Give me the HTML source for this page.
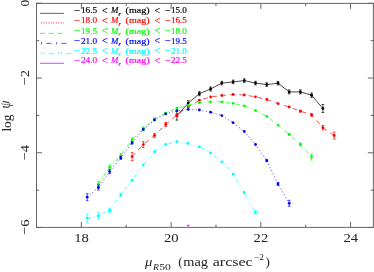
<!DOCTYPE html>
<html><head><meta charset="utf-8"><title>plot</title>
<style>
html,body{margin:0;padding:0;background:#fff;}
body{width:374px;height:272px;overflow:hidden;position:relative;font-family:"Liberation Serif",serif;}
</style></head><body>
<svg width="374" height="272" viewBox="0 0 374 272" style="position:absolute;left:0;top:0;display:block;will-change:transform">
<g stroke="#5e5e5e" stroke-width="0.95" fill="none">
<rect x="36.5" y="3.35" width="336.85" height="224.0"/>
<path d="M81.36 227.35v-5.5M81.36 3.35v5.5"/>
<path d="M126.23 227.35v-2.7M126.23 3.35v2.7"/>
<path d="M171.1 227.35v-5.5M171.1 3.35v5.5"/>
<path d="M215.97 227.35v-2.7M215.97 3.35v2.7"/>
<path d="M260.84 227.35v-5.5M260.84 3.35v5.5"/>
<path d="M305.71 227.35v-2.7M305.71 3.35v2.7"/>
<path d="M350.58 227.35v-5.5M350.58 3.35v5.5"/>
<path d="M36.5 3.3h5.5M373.35 3.3h-5.5"/>
<path d="M36.5 40.67h2.7M373.35 40.67h-2.7"/>
<path d="M36.5 78.04h5.5M373.35 78.04h-5.5"/>
<path d="M36.5 115.41h2.7M373.35 115.41h-2.7"/>
<path d="M36.5 152.78h5.5M373.35 152.78h-5.5"/>
<path d="M36.5 190.15h2.7M373.35 190.15h-2.7"/>
<path d="M36.5 227.52h5.5M373.35 227.52h-5.5"/>
</g>
<path d="M176.9 115.7 L188.2 103.1 L199.4 93.7 L210.6 89.0 L221.8 83.1 L233.1 81.9 L244.3 80.6 L255.5 83.1 L266.8 84.6 L278.0 83.2 L289.2 91.9 L300.4 91.9 L311.6 95.2 L322.9 108.5" fill="none" stroke="#000000" stroke-width="0.72"/>
<path d="M176.9 111.3V120.1M175.6 111.3h2.6M175.6 120.1h2.6M188.2 100.6V105.6M186.9 100.6h2.6M186.9 105.6h2.6M199.4 91.7V95.7M198.1 91.7h2.6M198.1 95.7h2.6M210.6 87.0V91.0M209.3 87.0h2.6M209.3 91.0h2.6M221.8 81.3V84.9M220.5 81.3h2.6M220.5 84.9h2.6M233.1 80.1V83.7M231.8 80.1h2.6M231.8 83.7h2.6M244.3 78.8V82.4M243.0 78.8h2.6M243.0 82.4h2.6M255.5 81.3V84.9M254.2 81.3h2.6M254.2 84.9h2.6M266.8 82.8V86.4M265.4 82.8h2.6M265.4 86.4h2.6M278.0 81.4V85.0M276.7 81.4h2.6M276.7 85.0h2.6M289.2 89.9V93.9M287.9 89.9h2.6M287.9 93.9h2.6M300.4 89.9V93.9M299.1 89.9h2.6M299.1 93.9h2.6M311.6 93.0V97.4M310.3 93.0h2.6M310.3 97.4h2.6M322.9 104.5V112.5M321.6 104.5h2.6M321.6 112.5h2.6" fill="none" stroke="#000000" stroke-width="0.7"/>
<circle cx="176.9" cy="115.7" r="1.4" fill="#000000"/>
<circle cx="188.2" cy="103.1" r="1.4" fill="#000000"/>
<circle cx="199.4" cy="93.7" r="1.4" fill="#000000"/>
<circle cx="210.6" cy="89.0" r="1.4" fill="#000000"/>
<circle cx="221.8" cy="83.1" r="1.4" fill="#000000"/>
<circle cx="233.1" cy="81.9" r="1.4" fill="#000000"/>
<circle cx="244.3" cy="80.6" r="1.4" fill="#000000"/>
<circle cx="255.5" cy="83.1" r="1.4" fill="#000000"/>
<circle cx="266.8" cy="84.6" r="1.4" fill="#000000"/>
<circle cx="278.0" cy="83.2" r="1.4" fill="#000000"/>
<circle cx="289.2" cy="91.9" r="1.4" fill="#000000"/>
<circle cx="300.4" cy="91.9" r="1.4" fill="#000000"/>
<circle cx="311.6" cy="95.2" r="1.4" fill="#000000"/>
<circle cx="322.9" cy="108.5" r="1.4" fill="#000000"/>
<path d="M132.1 156.6 L143.3 144.6 L154.5 135.3 L165.7 124.5 L176.9 115.0 L188.2 106.7 L199.4 100.2 L210.6 97.0 L221.8 95.5 L233.1 94.5 L244.3 95.0 L255.5 96.8 L266.8 99.5 L278.0 103.6 L289.2 107.0 L300.4 111.2 L311.6 114.9 L322.9 127.7 L334.1 135.5" fill="none" stroke="#ff0000" stroke-width="0.68" stroke-dasharray="5 4.2"/>
<path d="M132.1 152.6V160.6M130.8 152.6h2.6M130.8 160.6h2.6M143.3 141.6V147.6M142.0 141.6h2.6M142.0 147.6h2.6M154.5 133.3V137.3M153.2 133.3h2.6M153.2 137.3h2.6M165.7 122.5V126.5M164.4 122.5h2.6M164.4 126.5h2.6M176.9 113.5V116.5M175.6 113.5h2.6M175.6 116.5h2.6M188.2 105.7V107.7M186.9 105.7h2.6M186.9 107.7h2.6M300.4 110.2V112.2M299.1 110.2h2.6M299.1 112.2h2.6M311.6 113.4V116.4M310.3 113.4h2.6M310.3 116.4h2.6M322.9 125.5V129.9M321.6 125.5h2.6M321.6 129.9h2.6M334.1 132.1V138.9M332.8 132.1h2.6M332.8 138.9h2.6" fill="none" stroke="#ff0000" stroke-width="0.7"/>
<circle cx="132.1" cy="156.6" r="1.4" fill="#ff0000"/>
<circle cx="143.3" cy="144.6" r="1.4" fill="#ff0000"/>
<circle cx="154.5" cy="135.3" r="1.4" fill="#ff0000"/>
<circle cx="165.7" cy="124.5" r="1.4" fill="#ff0000"/>
<circle cx="176.9" cy="115.0" r="1.4" fill="#ff0000"/>
<circle cx="188.2" cy="106.7" r="1.4" fill="#ff0000"/>
<circle cx="199.4" cy="100.2" r="1.4" fill="#ff0000"/>
<circle cx="210.6" cy="97.0" r="1.4" fill="#ff0000"/>
<circle cx="221.8" cy="95.5" r="1.4" fill="#ff0000"/>
<circle cx="233.1" cy="94.5" r="1.4" fill="#ff0000"/>
<circle cx="244.3" cy="95.0" r="1.4" fill="#ff0000"/>
<circle cx="255.5" cy="96.8" r="1.4" fill="#ff0000"/>
<circle cx="266.8" cy="99.5" r="1.4" fill="#ff0000"/>
<circle cx="278.0" cy="103.6" r="1.4" fill="#ff0000"/>
<circle cx="289.2" cy="107.0" r="1.4" fill="#ff0000"/>
<circle cx="300.4" cy="111.2" r="1.4" fill="#ff0000"/>
<circle cx="311.6" cy="114.9" r="1.4" fill="#ff0000"/>
<circle cx="322.9" cy="127.7" r="1.4" fill="#ff0000"/>
<circle cx="334.1" cy="135.5" r="1.4" fill="#ff0000"/>
<path d="M98.4 184.3 L109.6 167.4 L120.8 155.6 L132.1 139.9 L143.3 128.5 L154.5 119.0 L165.7 113.2 L176.9 108.2 L188.2 105.4 L199.4 102.7 L210.6 101.8 L221.8 101.8 L233.1 103.3 L244.3 105.8 L255.5 110.6 L266.8 116.4 L278.0 125.2 L289.2 134.4 L300.4 144.4 L311.6 157.0" fill="none" stroke="#00ff00" stroke-width="0.68" stroke-dasharray="4.2 2.2 0.9 2.2"/>
<path d="M98.4 181.3V187.3M97.1 181.3h2.6M97.1 187.3h2.6M109.6 164.9V169.9M108.3 164.9h2.6M108.3 169.9h2.6M120.8 153.6V157.6M119.5 153.6h2.6M119.5 157.6h2.6M132.1 137.9V141.9M130.8 137.9h2.6M130.8 141.9h2.6M143.3 127.0V130.0M142.0 127.0h2.6M142.0 130.0h2.6M154.5 118.0V120.0M153.2 118.0h2.6M153.2 120.0h2.6M289.2 133.4V135.4M287.9 133.4h2.6M287.9 135.4h2.6M300.4 142.9V145.9M299.1 142.9h2.6M299.1 145.9h2.6M311.6 154.0V160.0M310.3 154.0h2.6M310.3 160.0h2.6" fill="none" stroke="#00ff00" stroke-width="0.7"/>
<circle cx="98.4" cy="184.3" r="1.4" fill="#00ff00"/>
<circle cx="109.6" cy="167.4" r="1.4" fill="#00ff00"/>
<circle cx="120.8" cy="155.6" r="1.4" fill="#00ff00"/>
<circle cx="132.1" cy="139.9" r="1.4" fill="#00ff00"/>
<circle cx="143.3" cy="128.5" r="1.4" fill="#00ff00"/>
<circle cx="154.5" cy="119.0" r="1.4" fill="#00ff00"/>
<circle cx="165.7" cy="113.2" r="1.4" fill="#00ff00"/>
<circle cx="176.9" cy="108.2" r="1.4" fill="#00ff00"/>
<circle cx="188.2" cy="105.4" r="1.4" fill="#00ff00"/>
<circle cx="199.4" cy="102.7" r="1.4" fill="#00ff00"/>
<circle cx="210.6" cy="101.8" r="1.4" fill="#00ff00"/>
<circle cx="221.8" cy="101.8" r="1.4" fill="#00ff00"/>
<circle cx="233.1" cy="103.3" r="1.4" fill="#00ff00"/>
<circle cx="244.3" cy="105.8" r="1.4" fill="#00ff00"/>
<circle cx="255.5" cy="110.6" r="1.4" fill="#00ff00"/>
<circle cx="266.8" cy="116.4" r="1.4" fill="#00ff00"/>
<circle cx="278.0" cy="125.2" r="1.4" fill="#00ff00"/>
<circle cx="289.2" cy="134.4" r="1.4" fill="#00ff00"/>
<circle cx="300.4" cy="144.4" r="1.4" fill="#00ff00"/>
<circle cx="311.6" cy="157.0" r="1.4" fill="#00ff00"/>
<path d="M87.2 197.2 L98.4 187.5 L109.6 171.7 L120.8 157.9 L132.1 143.0 L143.3 129.5 L154.5 120.0 L165.7 113.9 L176.9 110.7 L188.2 109.4 L199.4 110.0 L210.6 112.2 L221.8 115.6 L233.1 122.7 L244.3 131.5 L255.5 144.5 L266.8 160.6 L278.0 183.9 L289.2 203.3" fill="none" stroke="#0000ff" stroke-width="0.75" stroke-dasharray="1 2.4"/>
<path d="M87.2 193.7V200.7M85.9 193.7h2.6M85.9 200.7h2.6M98.4 185.0V190.0M97.1 185.0h2.6M97.1 190.0h2.6M109.6 169.7V173.7M108.3 169.7h2.6M108.3 173.7h2.6M120.8 156.4V159.4M119.5 156.4h2.6M119.5 159.4h2.6M132.1 142.0V144.0M130.8 142.0h2.6M130.8 144.0h2.6M266.8 159.6V161.6M265.4 159.6h2.6M265.4 161.6h2.6M278.0 182.4V185.4M276.7 182.4h2.6M276.7 185.4h2.6M289.2 200.3V206.3M287.9 200.3h2.6M287.9 206.3h2.6" fill="none" stroke="#0000ff" stroke-width="0.7"/>
<circle cx="87.2" cy="197.2" r="1.4" fill="#0000ff"/>
<circle cx="98.4" cy="187.5" r="1.4" fill="#0000ff"/>
<circle cx="109.6" cy="171.7" r="1.4" fill="#0000ff"/>
<circle cx="120.8" cy="157.9" r="1.4" fill="#0000ff"/>
<circle cx="132.1" cy="143.0" r="1.4" fill="#0000ff"/>
<circle cx="143.3" cy="129.5" r="1.4" fill="#0000ff"/>
<circle cx="154.5" cy="120.0" r="1.4" fill="#0000ff"/>
<circle cx="165.7" cy="113.9" r="1.4" fill="#0000ff"/>
<circle cx="176.9" cy="110.7" r="1.4" fill="#0000ff"/>
<circle cx="188.2" cy="109.4" r="1.4" fill="#0000ff"/>
<circle cx="199.4" cy="110.0" r="1.4" fill="#0000ff"/>
<circle cx="210.6" cy="112.2" r="1.4" fill="#0000ff"/>
<circle cx="221.8" cy="115.6" r="1.4" fill="#0000ff"/>
<circle cx="233.1" cy="122.7" r="1.4" fill="#0000ff"/>
<circle cx="244.3" cy="131.5" r="1.4" fill="#0000ff"/>
<circle cx="255.5" cy="144.5" r="1.4" fill="#0000ff"/>
<circle cx="266.8" cy="160.6" r="1.4" fill="#0000ff"/>
<circle cx="278.0" cy="183.9" r="1.4" fill="#0000ff"/>
<circle cx="289.2" cy="203.3" r="1.4" fill="#0000ff"/>
<path d="M87.2 218.2 L98.4 215.9 L109.6 210.2 L120.8 194.8 L132.1 180.3 L143.3 164.8 L154.5 151.7 L165.7 144.4 L176.9 141.6 L188.2 143.5 L199.4 146.8 L210.6 152.9 L221.8 161.8 L233.1 174.2 L244.3 192.7 L255.5 212.3" fill="none" stroke="#00ffff" stroke-width="0.7" stroke-dasharray="4 2.4 0.9 2.4 0.9 2.4 0.9 2.4"/>
<path d="M87.2 214.2V222.2M85.9 214.2h2.6M85.9 222.2h2.6M98.4 212.9V218.9M97.1 212.9h2.6M97.1 218.9h2.6M109.6 208.2V212.2M108.3 208.2h2.6M108.3 212.2h2.6M120.8 193.3V196.3M119.5 193.3h2.6M119.5 196.3h2.6M132.1 179.3V181.3M130.8 179.3h2.6M130.8 181.3h2.6M244.3 191.9V193.5M243.0 191.9h2.6M243.0 193.5h2.6M255.5 210.8V213.8M254.2 210.8h2.6M254.2 213.8h2.6" fill="none" stroke="#00ffff" stroke-width="0.7"/>
<circle cx="87.2" cy="218.2" r="1.4" fill="#00ffff"/>
<circle cx="98.4" cy="215.9" r="1.4" fill="#00ffff"/>
<circle cx="109.6" cy="210.2" r="1.4" fill="#00ffff"/>
<circle cx="120.8" cy="194.8" r="1.4" fill="#00ffff"/>
<circle cx="132.1" cy="180.3" r="1.4" fill="#00ffff"/>
<circle cx="143.3" cy="164.8" r="1.4" fill="#00ffff"/>
<circle cx="154.5" cy="151.7" r="1.4" fill="#00ffff"/>
<circle cx="165.7" cy="144.4" r="1.4" fill="#00ffff"/>
<circle cx="176.9" cy="141.6" r="1.4" fill="#00ffff"/>
<circle cx="188.2" cy="143.5" r="1.4" fill="#00ffff"/>
<circle cx="199.4" cy="146.8" r="1.4" fill="#00ffff"/>
<circle cx="210.6" cy="152.9" r="1.4" fill="#00ffff"/>
<circle cx="221.8" cy="161.8" r="1.4" fill="#00ffff"/>
<circle cx="233.1" cy="174.2" r="1.4" fill="#00ffff"/>
<circle cx="244.3" cy="192.7" r="1.4" fill="#00ffff"/>
<circle cx="255.5" cy="212.3" r="1.4" fill="#00ffff"/>
<path d="M186.9 225.3h2.6M188.2 225.3V227" fill="none" stroke="#ff00ff" stroke-width="0.9"/>
<path d="M40 13.35H64" stroke="#222" stroke-width="0.7"/>
<path d="M40.9 22.8H64" stroke="#ff0000" stroke-width="1.8" stroke-dasharray="0.9 1.6" opacity="0.55"/>
<path d="M40 33.35H64" stroke="#00ff00" stroke-width="0.7" stroke-dasharray="5 3.6"/>
<path d="M46.4 43.35h4.9M61.4 43.35h5.2" stroke="#0000ff" stroke-width="0.7"/>
<path d="M41.5 42.15v2.2M56.6 42.15v2.2" stroke="#0000ff" stroke-width="0.9" opacity="0.75"/>
<path d="M48.7 53.35h5.2M66.4 53.35h4.9" stroke="#00ffff" stroke-width="0.7"/>
<path d="M41.3 52.050000000000004v2.4M43.9 52.050000000000004v2.4M58.9 52.050000000000004v2.4M61.5 52.050000000000004v2.4" stroke="#00ffff" stroke-width="0.9" opacity="0.75"/>
<path d="M40 63.3H64" stroke="#ff00ff" stroke-width="0.8"/>
<g fill="#000000" stroke="#000000" stroke-width="0.18" font-family="Liberation Serif, serif" font-size="8.7px">
<path d="M74.3 10.50h5.4M165.2 10.50h5.2" stroke-width="0.85" opacity="0.8" fill="none"/>
<text x="80.9" y="13.4" textLength="16.3" lengthAdjust="spacingAndGlyphs">16.5</text>
<text x="101.9" y="14.2" font-size="10px">&lt;</text>
<text x="111.0" y="13.4" font-style="italic" textLength="7.4" lengthAdjust="spacingAndGlyphs">M</text>
<text x="118.4" y="15.6" font-style="italic" font-weight="bold" font-size="5.5px">r</text>
<text x="125.6" y="13.4" textLength="24" lengthAdjust="spacingAndGlyphs">(mag)</text>
<text x="154.6" y="14.2" font-size="10px">&lt;</text>
<text x="171.0" y="13.4" textLength="15.9" lengthAdjust="spacingAndGlyphs">15.0</text>
</g>
<g fill="#ff0000" stroke="#ff0000" stroke-width="0.18" font-family="Liberation Serif, serif" font-size="8.7px">
<path d="M74.3 20.45h5.4M165.2 20.45h5.2" stroke-width="0.85" opacity="0.8" fill="none"/>
<text x="80.9" y="23.4" textLength="16.3" lengthAdjust="spacingAndGlyphs">18.0</text>
<text x="101.9" y="24.2" font-size="10px">&lt;</text>
<text x="111.0" y="23.4" font-style="italic" textLength="7.4" lengthAdjust="spacingAndGlyphs">M</text>
<text x="118.4" y="25.6" font-style="italic" font-weight="bold" font-size="5.5px">r</text>
<text x="125.6" y="23.4" textLength="24" lengthAdjust="spacingAndGlyphs">(mag)</text>
<text x="154.6" y="24.2" font-size="10px">&lt;</text>
<text x="171.0" y="23.4" textLength="15.9" lengthAdjust="spacingAndGlyphs">16.5</text>
</g>
<g fill="#00ff00" stroke="#00ff00" stroke-width="0.18" font-family="Liberation Serif, serif" font-size="8.7px">
<path d="M74.3 30.50h5.4M165.2 30.50h5.2" stroke-width="0.85" opacity="0.8" fill="none"/>
<text x="80.9" y="33.5" textLength="16.3" lengthAdjust="spacingAndGlyphs">19.5</text>
<text x="101.9" y="34.2" font-size="10px">&lt;</text>
<text x="111.0" y="33.5" font-style="italic" textLength="7.4" lengthAdjust="spacingAndGlyphs">M</text>
<text x="118.4" y="35.7" font-style="italic" font-weight="bold" font-size="5.5px">r</text>
<text x="125.6" y="33.5" textLength="24" lengthAdjust="spacingAndGlyphs">(mag)</text>
<text x="154.6" y="34.2" font-size="10px">&lt;</text>
<text x="171.0" y="33.5" textLength="15.9" lengthAdjust="spacingAndGlyphs">18.0</text>
</g>
<g fill="#0000ff" stroke="#0000ff" stroke-width="0.18" font-family="Liberation Serif, serif" font-size="8.7px">
<path d="M74.3 40.50h5.4M165.2 40.50h5.2" stroke-width="0.85" opacity="0.8" fill="none"/>
<text x="80.9" y="43.5" textLength="16.3" lengthAdjust="spacingAndGlyphs">21.0</text>
<text x="101.9" y="44.2" font-size="10px">&lt;</text>
<text x="111.0" y="43.5" font-style="italic" textLength="7.4" lengthAdjust="spacingAndGlyphs">M</text>
<text x="118.4" y="45.7" font-style="italic" font-weight="bold" font-size="5.5px">r</text>
<text x="125.6" y="43.5" textLength="24" lengthAdjust="spacingAndGlyphs">(mag)</text>
<text x="154.6" y="44.2" font-size="10px">&lt;</text>
<text x="171.0" y="43.5" textLength="15.9" lengthAdjust="spacingAndGlyphs">19.5</text>
</g>
<g fill="#00ffff" stroke="#00ffff" stroke-width="0.18" font-family="Liberation Serif, serif" font-size="8.7px">
<path d="M74.3 50.50h5.4M165.2 50.50h5.2" stroke-width="0.85" opacity="0.8" fill="none"/>
<text x="80.9" y="53.5" textLength="16.3" lengthAdjust="spacingAndGlyphs">22.5</text>
<text x="101.9" y="54.2" font-size="10px">&lt;</text>
<text x="111.0" y="53.5" font-style="italic" textLength="7.4" lengthAdjust="spacingAndGlyphs">M</text>
<text x="118.4" y="55.7" font-style="italic" font-weight="bold" font-size="5.5px">r</text>
<text x="125.6" y="53.5" textLength="24" lengthAdjust="spacingAndGlyphs">(mag)</text>
<text x="154.6" y="54.2" font-size="10px">&lt;</text>
<text x="171.0" y="53.5" textLength="15.9" lengthAdjust="spacingAndGlyphs">21.0</text>
</g>
<g fill="#ff00ff" stroke="#ff00ff" stroke-width="0.18" font-family="Liberation Serif, serif" font-size="8.7px">
<path d="M74.3 60.45h5.4M165.2 60.45h5.2" stroke-width="0.85" opacity="0.8" fill="none"/>
<text x="80.9" y="63.4" textLength="16.3" lengthAdjust="spacingAndGlyphs">24.0</text>
<text x="101.9" y="64.2" font-size="10px">&lt;</text>
<text x="111.0" y="63.4" font-style="italic" textLength="7.4" lengthAdjust="spacingAndGlyphs">M</text>
<text x="118.4" y="65.6" font-style="italic" font-weight="bold" font-size="5.5px">r</text>
<text x="125.6" y="63.4" textLength="24" lengthAdjust="spacingAndGlyphs">(mag)</text>
<text x="154.6" y="64.2" font-size="10px">&lt;</text>
<text x="171.0" y="63.4" textLength="15.9" lengthAdjust="spacingAndGlyphs">22.5</text>
</g>
<g fill="#222" font-family="Liberation Serif, serif" font-size="12.5px">
<text x="74.2" y="242.1" textLength="14.6" lengthAdjust="spacingAndGlyphs">18</text>
<text x="163.9" y="242.1" textLength="14.6" lengthAdjust="spacingAndGlyphs">20</text>
<text x="253.6" y="242.1" textLength="14.6" lengthAdjust="spacingAndGlyphs">22</text>
<text x="343.4" y="242.1" textLength="14.6" lengthAdjust="spacingAndGlyphs">24</text>
</g>
<g fill="#222" font-family="Liberation Serif, serif" font-size="13.4px">
<text transform="translate(29.1 6.4) rotate(-90)" x="0" y="0">0</text>
<text transform="translate(29.1 85.6) rotate(-90)" x="0" y="0" textLength="15.6" lengthAdjust="spacingAndGlyphs">−2</text>
<text transform="translate(29.1 160.4) rotate(-90)" x="0" y="0" textLength="15.6" lengthAdjust="spacingAndGlyphs">−4</text>
<text transform="translate(29.1 235.1) rotate(-90)" x="0" y="0" textLength="15.6" lengthAdjust="spacingAndGlyphs">−6</text>
</g>
<g fill="#222" font-family="Liberation Serif, serif" font-size="13px">
<text transform="translate(11 131.6) rotate(-90)" x="0" y="0" textLength="17" lengthAdjust="spacingAndGlyphs">log</text>
<text transform="translate(10.2 108.5) rotate(-90)" x="0" y="0" font-style="italic" font-size="15px" textLength="7.9" lengthAdjust="spacingAndGlyphs">ψ</text>
</g>
<g fill="#222" font-family="Liberation Serif, serif" font-size="13px">
<text x="145.1" y="266.4" font-style="italic" textLength="7.3" lengthAdjust="spacingAndGlyphs">μ</text>
<text x="153.1" y="270.2" font-style="italic" font-size="8.3px" textLength="6" lengthAdjust="spacingAndGlyphs">R</text>
<text x="159.3" y="270.2" font-size="8.3px" textLength="11.6" lengthAdjust="spacingAndGlyphs">50</text>
<text x="178.2" y="266.4">(</text>
<text x="183.3" y="266.4" textLength="24.7" lengthAdjust="spacingAndGlyphs">mag</text>
<text x="212.7" y="266.4" textLength="40" lengthAdjust="spacingAndGlyphs">arcsec</text>
<text x="254" y="259.9" font-size="8px" textLength="10" lengthAdjust="spacingAndGlyphs">−2</text>
<text x="265.6" y="266.4">)</text>
</g>
</svg>
</body></html>
